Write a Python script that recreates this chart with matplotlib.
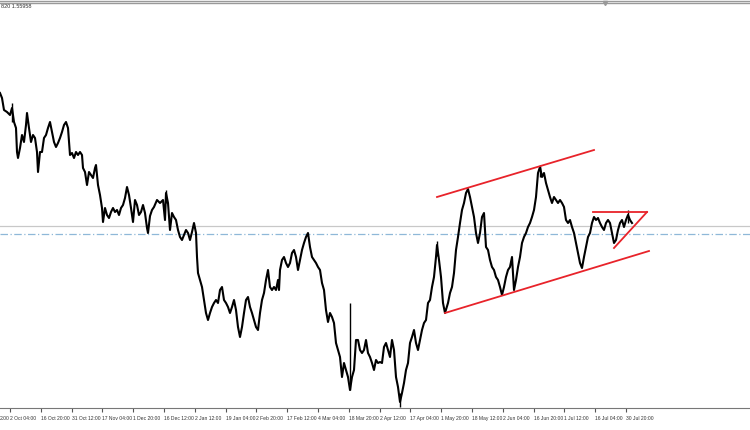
import matplotlib.pyplot as plt
import matplotlib.transforms as mtransforms

# price path (bar index, close)
bars = [0, 2, 4, 7, 10, 12, 14, 16, 17, 18, 20, 22, 24, 26, 27, 29, 31, 33, 35, 37,
        38, 40, 42, 44, 46, 48, 50, 52, 54, 56, 58, 60, 62, 64, 66, 68, 70, 72, 74, 76,
        78, 80, 82, 83, 85, 87, 89, 91, 93, 95, 96, 98, 100, 102, 103, 105, 107, 109, 111, 113,
        115, 117, 119, 121, 123, 125, 127, 129, 131, 133, 135, 137, 139, 141, 143, 145, 147, 148, 150, 152,
        154, 157, 160, 163, 165, 166, 168, 170, 172, 174, 176, 178, 180, 182, 184, 186, 188, 190, 192, 194,
        196, 197, 198, 200, 202, 204, 206, 208, 210, 212, 214, 216, 218, 220, 222, 224, 226, 228, 230, 232,
        234, 236, 238, 240, 242, 244, 246, 248, 250, 252, 254, 256, 258, 260, 262, 264, 266, 268, 270, 272,
        274, 276, 278, 279, 280, 282, 284, 286, 288, 290, 292, 294, 296, 298, 300, 302, 304, 306, 308, 310,
        312, 314, 316, 318, 320, 322, 324, 326, 328, 330, 332, 334, 336, 338, 340, 342, 344, 346, 348, 350,
        352, 354, 356, 358, 360, 362, 364, 366, 368, 370, 372, 374, 376, 378, 380, 382, 384, 386, 388, 390,
        392, 394, 396, 398, 400, 402, 404, 406, 408, 410, 412, 414, 416, 418, 420, 422, 424, 426, 428, 430,
        432, 434, 436, 437, 439, 441, 443, 445, 448, 450, 452, 454, 456, 458, 460, 462, 464, 466, 468, 470,
        472, 474, 476, 478, 480, 482, 484, 486, 488, 490, 492, 494, 496, 498, 500, 502, 504, 506, 508, 510,
        512, 514, 516, 518, 520, 522, 524, 526, 528, 530, 532, 534, 536, 538, 540, 542, 544, 546, 548, 550,
        552, 554, 556, 558, 560, 562, 564, 566, 568, 570, 572, 574, 576, 578, 580, 582, 584, 586, 588, 590,
        592, 594, 596, 598, 600, 602, 604, 606, 608, 610, 612, 614, 616, 618, 620, 622, 624, 626, 628, 630,
        632]
close = [1.693, 1.688, 1.676, 1.674, 1.671, 1.678, 1.664, 1.658, 1.634, 1.628, 1.638, 1.651, 1.644, 1.661, 1.673, 1.658, 1.644, 1.651, 1.648, 1.634,
         1.614, 1.634, 1.634, 1.648, 1.651, 1.658, 1.664, 1.654, 1.644, 1.639, 1.643, 1.648, 1.654, 1.661, 1.664, 1.658, 1.631, 1.633, 1.628, 1.634,
         1.631, 1.634, 1.631, 1.618, 1.614, 1.601, 1.614, 1.611, 1.608, 1.618, 1.621, 1.601, 1.591, 1.578, 1.564, 1.578, 1.571, 1.568, 1.574, 1.578,
         1.574, 1.576, 1.571, 1.578, 1.581, 1.588, 1.599, 1.591, 1.578, 1.564, 1.586, 1.581, 1.571, 1.574, 1.581, 1.573, 1.558, 1.553, 1.570, 1.576,
         1.579, 1.586, 1.583, 1.586, 1.566, 1.593, 1.583, 1.556, 1.573, 1.569, 1.566, 1.556, 1.549, 1.546, 1.551, 1.556, 1.553, 1.546, 1.554, 1.563,
         1.553, 1.529, 1.513, 1.506, 1.499, 1.486, 1.473, 1.466, 1.473, 1.479, 1.483, 1.486, 1.483, 1.496, 1.499, 1.486, 1.483, 1.479, 1.473, 1.479,
         1.486, 1.476, 1.459, 1.449, 1.459, 1.473, 1.486, 1.489, 1.479, 1.473, 1.466, 1.459, 1.456, 1.473, 1.486, 1.493, 1.506, 1.516, 1.499, 1.496,
         1.499, 1.496, 1.506, 1.496, 1.516, 1.526, 1.529, 1.523, 1.519, 1.523, 1.533, 1.536, 1.529, 1.516, 1.526, 1.536, 1.543, 1.549, 1.553, 1.539,
         1.529, 1.526, 1.523, 1.519, 1.516, 1.503, 1.496, 1.476, 1.464, 1.473, 1.469, 1.463, 1.443, 1.436, 1.429, 1.409, 1.423, 1.416, 1.409, 1.396,
         1.409, 1.416, 1.446, 1.446, 1.436, 1.433, 1.436, 1.446, 1.433, 1.429, 1.423, 1.416, 1.426, 1.423, 1.424, 1.423, 1.439, 1.443, 1.436, 1.429,
         1.446, 1.436, 1.409, 1.399, 1.384, 1.393, 1.403, 1.416, 1.423, 1.443, 1.449, 1.456, 1.443, 1.436, 1.446, 1.456, 1.463, 1.466, 1.483, 1.486,
         1.499, 1.509, 1.529, 1.541, 1.526, 1.509, 1.483, 1.473, 1.483, 1.493, 1.499, 1.513, 1.536, 1.549, 1.563, 1.576, 1.583, 1.593, 1.597, 1.589,
         1.579, 1.569, 1.553, 1.543, 1.553, 1.569, 1.573, 1.539, 1.536, 1.526, 1.519, 1.516, 1.509, 1.506, 1.499, 1.491, 1.499, 1.509, 1.516, 1.519,
         1.529, 1.496, 1.506, 1.519, 1.529, 1.543, 1.549, 1.553, 1.559, 1.563, 1.569, 1.576, 1.589, 1.613, 1.619, 1.609, 1.613, 1.603, 1.596, 1.589,
         1.583, 1.589, 1.586, 1.583, 1.586, 1.583, 1.579, 1.566, 1.563, 1.566, 1.559, 1.553, 1.543, 1.533, 1.523, 1.518, 1.529, 1.539, 1.549, 1.553,
         1.563, 1.569, 1.566, 1.568, 1.563, 1.559, 1.556, 1.563, 1.566, 1.563, 1.553, 1.543, 1.546, 1.556, 1.563, 1.566, 1.559, 1.566, 1.571, 1.566,
         1.563]

# a few long wicks
wick_x = [12, 166, 350, 400, 437, 540, 628]
wick_lo = [1.664, 1.583, 1.396, 1.379, 1.530, 1.609, 1.563]
wick_hi = [1.683, 1.596, 1.483, 1.393, 1.545, 1.621, 1.576]

# trend lines drawn on the chart: (x0, p0, x1, p1)
channel_top = (437, 1.589, 594, 1.636)
channel_bottom = (445, 1.473, 649, 1.535)
triangle_top = (593, 1.574, 647, 1.574)
triangle_side = (614, 1.538, 647, 1.574)

bid_price = 1.560
ask_price = 1.552

tick_labels = ["2 Oct 04:00", "16 Oct 20:00", "31 Oct 12:00", "17 Nov 04:00",
               "1 Dec 20:00", "16 Dec 12:00", "2 Jan 12:00", "19 Jan 04:00", "2 Feb 20:00",
               "17 Feb 12:00", "4 Mar 04:00", "18 Mar 20:00", "2 Apr 12:00", "17 Apr 04:00",
               "1 May 20:00", "18 May 12:00", "2 Jun 04:00", "16 Jun 20:00", "1 Jul 12:00",
               "16 Jul 04:00", "30 Jul 20:00"]

label_font = ["Liberation Sans Narrow", "Liberation Sans", "DejaVu Sans"]

fig = plt.figure(figsize=(7.5, 4.3), dpi=100)
ax = fig.add_axes([0, 22 / 430, 1, 405 / 430])

ax.axhline(bid_price, color="#c8c8c8", lw=0.9)
ax.axhline(ask_price, color="#8fb8d8", lw=0.9, ls=(0, (6, 2, 1, 2)))

ax.plot(bars, close, color="black", lw=1.5)
ax.vlines(wick_x, wick_lo, wick_hi, color="black", lw=1.0)

for x0, p0, x1, p1 in [channel_top, channel_bottom, triangle_top, triangle_side]:
    ax.plot([x0, x1], [p0, p1], color="#e8232a", lw=1.3)

# chart shift marker
ax.plot([605], [1.783], marker="v", color="#999999", markersize=3, clip_on=False)

step = 30.8
ticks = [10 + i * step for i in range(len(tick_labels))]
ax.set_xticks(ticks)
ax.set_xticklabels(tick_labels, ha="left", fontsize=3.6, color="#333333", family=label_font)
offset = mtransforms.ScaledTranslation(1.5 / 100, 0, fig.dpi_scale_trans)
for lab in ax.get_xticklabels():
    lab.set_transform(lab.get_transform() + offset)
ax.tick_params(axis="x", direction="out", length=3, width=0.8, color="#555555", pad=2.5)
ax.set_yticks([])

ax.set_xlim(0, 750)
ax.set_ylim(1.378, 1.783)

for side in ["left", "right"]:
    ax.spines[side].set_visible(False)
ax.spines["bottom"].set_color("#777777")
ax.spines["top"].set_color("#999999")
ax.spines["top"].set_linewidth(1.0)

# tail of the previous date label, cut by the left edge
fig.text(0, 1 - 418.5 / 430, "2:00", ha="left", va="center",
         fontsize=3.6, color="#333333", family=label_font)

# double border line at the very top
fig.add_artist(plt.Line2D([0, 1], [1 - 0.8 / 430, 1 - 0.8 / 430], color="#999999", lw=1.0))

# price header (only its tail is visible in the reference)
fig.text(1 / 750, 1 - 7 / 430, "820 1.55958", ha="left", va="center",
         fontsize=4.0, color="#333333", family=label_font)

fig.savefig("out.png", dpi=100)
